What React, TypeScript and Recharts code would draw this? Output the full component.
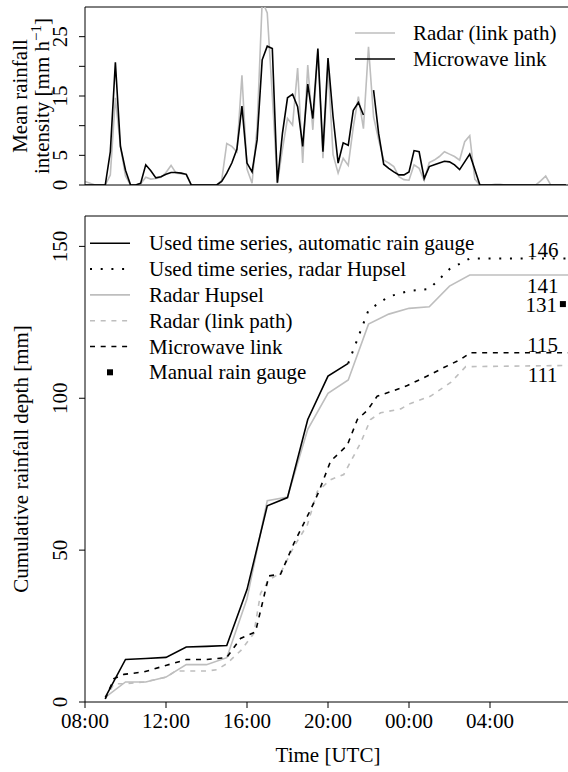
import React from "react"
import {
  ComposedChart,
  Legend,
  Line,
  LineChart,
  ReferenceDot,
  ReferenceLine,
  Scatter,
  XAxis,
  YAxis,
  Label,
} from "recharts"

const FONT = '"Liberation Serif", "Times New Roman", serif'
const GREY = "#bebebe"

// x is hours after 08:00 UTC
const timeTicks = [0, 4, 8, 12, 16, 20]
const timeLabels = ["08:00", "12:00", "16:00", "20:00", "00:00", "04:00"]

const intensityTicks = [0, 5, 10, 15, 20, 25]
const intensityLabels = [0, 5, 15, 25]
const depthTicks = [0, 50, 100, 150]

// 15-minute mean rainfall intensity [mm/h], starting 08:00
const radarLinkPath15 = [
  0.6, 0.3, 0, 0, 0, 1.7, 14.7, 6.5, 1.5, 0, 0, 0.2, 1.3, 1.0, 1.1, 1.3,
  2.1, 3.3, 2.0, 1.9, 1.8, 0, 0, 0, 0, 0, 0, 0.8, 7.0, 6.5, 5.6, 18.5,
  2.7, 0.3, 9.8, 31, 29.0, 15, 0.3, 6, 11.2, 10.1, 19.7, 3.7, 20.2, 9.3, 22.5, 4.5,
  20.0, 5.1, 2.0, 4.5, 3.3, 9.8, 14.9, 9.5, 23.3, 11.5, 7.6, 4.2, 3.7, 3.1, 1.4, 0.9,
  0.8, 3.4, 2.8, 0.8, 3.8, 4.2, 4.8, 5.6, 5.2, 4.8, 4.2, 7.3, 8.3, 1.0, 0, 0,
  0, 0.1, 0.1, 0, 0, 0, 0, 0, 0, 0, 0.7, 1.5, 0, 0, 0, 0,
]

const microwaveLink15 = [
  0, 0, 0, 0, 0, 5.6, 20.7, 6.5, 2.5, 0, 0, 0.3, 3.4, 2.4, 1.2, 1.4,
  1.8, 2.1, 2.1, 2.0, 1.8, 0, 0, 0, 0, 0, 0, 0.6, 2.0, 3.7, 6.0, 13.3,
  3.7, 2.2, 7.6, 21.1, 23.4, 23.0, 0.4, 8.7, 14.7, 15.3, 13.2, 6.5, 17.0, 11.2, 23.0, 5.6,
  21.4, 11.5, 3.7, 7.1, 6.7, 12.6, 13.9, 11.8, null, 16.0, 8.7, 3.5, 2.8, 2.2, 1.7, 1.7,
  2.2, 5.8, 5.6, 1.1, 3.1, 3.4, 3.7, 4.0, 3.9, 3.4, 2.6, 3.9, 5.2, 2.6, 0, 0,
  0, 0, 0, 0, 0, 0, 0, 0, 0, 0, 0, 0, 0, 0, 0, 0,
]

// cumulative rainfall depth [mm]
const gaugeTime = [1, 2, 3, 4, 5, 6, 7, 8, 9, 10, 11, 12, 13]
const gaugeDepth = [1.5, 14.0, 14.3, 14.7, 18.1, 18.3, 18.6, 37, 64.6, 67.3, 93, 107.3, 111.5]

const usedRadarTime = [13, 14, 15, 16, 17, 18, 19, 24]
const usedRadarDepth = [111.5, 129, 133.5, 135.3, 136, 142.5, 146, 146]

const hupselTime = [1, 2, 3, 4, 5, 6, 7, 8, 9, 10, 11, 12, 13, 14, 15, 16, 17, 18, 19, 24]
const hupselDepth = [
  1.5, 6.6, 6.6, 8.2, 12.3, 12.3, 14.6, 34, 66.3, 67.5, 89.8, 101.6, 106, 124.4,
  127.7, 129.6, 130.1, 136.9, 140.6, 140.6,
]

const radarLinkTime = [
  1.0, 1.43, 1.92, 2.91, 4.03, 4.47, 6.0, 6.5, 7.0, 7.7, 8.34, 8.67, 9.08, 9.66,
  10.32, 10.98, 11.47, 12.13, 12.78, 13.61, 14.1, 14.6, 15.59, 16.08, 17.07, 18.06, 18.8, 24,
]
const radarLinkDepth = [
  1.0, 6.0, 6.0, 6.6, 8.2, 10.2, 10.2, 10.6, 12.6, 17, 22.6, 35.8, 40.2, 42.5,
  51.2, 58.3, 69.3, 73.2, 74.9, 85.3, 93.0, 95.2, 96.5, 98.3, 100.7, 105.2, 110.4, 110.8,
]

const linkTime = [
  1.0, 1.43, 1.92, 2.91, 4.03, 5.02, 6.0, 6.99, 7.68, 8.42, 9.08, 9.66, 10.32, 11.14,
  11.55, 12.13, 12.95, 13.45, 13.94, 14.43, 15.25, 15.92, 16.9, 17.72, 18.55, 19.04, 24,
]
const linkDepth = [
  1.0, 7.7, 9.1, 9.9, 12.1, 14.0, 14.0, 14.6, 20.9, 23.1, 41.5, 42.1, 52.3, 63.3,
  69.3, 79.3, 84.5, 93.0, 96.0, 100.7, 102.5, 104.2, 107.3, 110.1, 112.8, 115, 115,
]

const manualGaugeTime = [23.6]
const manualGaugeDepth = [131]

const endLabels = ["146", "141", "131", "115", "111"]
const endValues = [146, 141, 131, 115, 111]

const intensityRows = radarLinkPath15.map((v, i) => ({
  t: i / 4,
  radar: v,
  link: microwaveLink15[i],
}))

const pairs = (ts: number[], vs: number[]) => ts.map((t, i) => ({ t, v: vs[i] }))

const textProps = { fontSize: 21, fontFamily: FONT, fill: "#000" }

function RotTick(props: any) {
  const { x, y, payload, show } = props
  if (show && !show.includes(payload.value)) return <g />
  return (
    <text
      x={x}
      y={y}
      transform={`rotate(-90, ${x}, ${y})`}
      textAnchor="middle"
      {...textProps}
    >
      {payload.value}
    </text>
  )
}

function IntensityTitle(props: any) {
  const { viewBox } = props
  const cy = viewBox.y + viewBox.height / 2
  return (
    <g>
      <text x={27} y={cy} transform={`rotate(-90, 27, ${cy})`} textAnchor="middle" {...textProps}>
        Mean rainfall
      </text>
      <text x={49} y={cy} transform={`rotate(-90, 49, ${cy})`} textAnchor="middle" {...textProps}>
        intensity [mm h
        <tspan fontSize={15} dy={-8}>−1</tspan>
        <tspan dy={8}>]</tspan>
      </text>
    </g>
  )
}

function DepthTitle(props: any) {
  const { viewBox } = props
  const cy = viewBox.y + viewBox.height / 2
  return (
    <text x={28} y={cy} transform={`rotate(-90, 28, ${cy})`} textAnchor="middle" {...textProps}>
      Cumulative rainfall depth [mm]
    </text>
  )
}

const topLegend = [
  { name: "Radar (link path)", color: GREY, dash: undefined },
  { name: "Microwave link", color: "#000", dash: undefined },
]

const bottomLegend = [
  { name: "Used time series, automatic rain gauge", color: "#000", dash: undefined, width: 1.6 },
  { name: "Used time series, radar Hupsel", color: "#000", dash: "2 8.7", width: 2 },
  { name: "Radar Hupsel", color: GREY, dash: undefined, width: 1.6 },
  { name: "Radar (link path)", color: GREY, dash: "5 5.7", width: 1.6 },
  { name: "Microwave link", color: "#000", dash: "5 5.7", width: 1.6 },
  { name: "Manual rain gauge", color: "#000", dash: "square", width: 0 },
]

function TopLegendBox() {
  return (
    <svg width={568} height={80}>
      {topLegend.map((e, i) => {
        const cy = 33 + i * 26
        return (
          <g key={e.name}>
            <line x1={355} x2={395} y1={cy} y2={cy} stroke={e.color} strokeWidth={1.6} />
            <text x={413} y={cy + 7} {...textProps}>
              {e.name}
            </text>
          </g>
        )
      })}
    </svg>
  )
}

function BottomLegendBox() {
  return (
    <svg width={568} height={190}>
      {bottomLegend.map((e, i) => {
        const cy = 43.3 + i * 25.8
        return (
          <g key={e.name}>
            {e.dash === "square" ? (
              <rect x={107} y={cy - 3} width={6} height={6} fill="#000" />
            ) : (
              <line
                x1={90}
                x2={130}
                y1={cy}
                y2={cy}
                stroke={e.color}
                strokeWidth={e.width}
                strokeDasharray={e.dash}
              />
            )}
            <text x={149} y={cy + 7} {...textProps}>
              {e.name}
            </text>
          </g>
        )
      })}
    </svg>
  )
}

const squareShape = (p: any) => (
  <rect x={p.cx - 3} y={p.cy - 3} width={6} height={6} fill="#000" />
)

export default function App() {
  return (
    <div
      style={{
        position: "absolute",
        left: 0,
        top: 0,
        width: 568,
        height: 772,
        overflow: "hidden",
        background: "#fff",
        fontFamily: FONT,
      }}
    >
      <div style={{ position: "absolute", left: 0, top: 0 }}>
        <LineChart
          width={600}
          height={215}
          data={intensityRows}
          margin={{ top: 7, right: 29, bottom: 0, left: 0 }}
        >
          <XAxis
            dataKey="t"
            type="number"
            domain={[0, 24]}
            ticks={timeTicks}
            tick={false}
            tickSize={6}
            height={30}
            stroke="#000"
          />
          <YAxis
            type="number"
            domain={[0, 30]}
            allowDataOverflow
            ticks={intensityTicks}
            width={85}
            tickSize={6}
            tickMargin={12}
            stroke="#000"
            tick={(p: any) => <RotTick {...p} show={intensityLabels} />}
          >
            <Label content={IntensityTitle} />
          </YAxis>
          <ReferenceLine y={30} stroke="#000" />
          <ReferenceLine x={24} stroke="#000" />
          <Line
            dataKey="radar"
            stroke={GREY}
            strokeWidth={1.6}
            dot={false}
            isAnimationActive={false}
          />
          <Line
            dataKey="link"
            stroke="#000"
            strokeWidth={1.6}
            dot={false}
            connectNulls={false}
            isAnimationActive={false}
          />
          <Legend
            layout="horizontal"
            verticalAlign="middle"
            align="center"
            wrapperStyle={{ left: 0, top: 0, width: 568, height: 80 }}
            content={() => <TopLegendBox />}
          />
        </LineChart>
      </div>

      <div style={{ position: "absolute", left: 0, top: 200 }}>
        <ComposedChart
          width={600}
          height={572}
          margin={{ top: 16, right: 29, bottom: 0, left: 0 }}
        >
          <XAxis
            dataKey="t"
            type="number"
            domain={[0, 24]}
            ticks={timeTicks}
            interval={0}
            tickFormatter={(v: number) => timeLabels[timeTicks.indexOf(v)]}
            tick={textProps}
            tickSize={6}
            tickMargin={5}
            height={70}
            stroke="#000"
          >
            <Label value="Time [UTC]" position="insideBottom" offset={10} {...textProps} />
          </XAxis>
          <YAxis
            type="number"
            domain={[0, 160]}
            allowDataOverflow
            ticks={depthTicks}
            width={85}
            tickSize={6}
            tickMargin={12}
            stroke="#000"
            tick={(p: any) => <RotTick {...p} />}
          >
            <Label content={DepthTitle} />
          </YAxis>
          <ReferenceLine y={160} stroke="#000" />
          <ReferenceLine x={24} stroke="#000" />

          <Line
            data={pairs(hupselTime, hupselDepth)}
            dataKey="v"
            stroke={GREY}
            strokeWidth={1.6}
            dot={false}
            isAnimationActive={false}
          />
          <Line
            data={pairs(radarLinkTime, radarLinkDepth)}
            dataKey="v"
            stroke={GREY}
            strokeWidth={1.6}
            strokeDasharray="5 5.7"
            dot={false}
            isAnimationActive={false}
          />
          <Line
            data={pairs(gaugeTime, gaugeDepth)}
            dataKey="v"
            stroke="#000"
            strokeWidth={1.6}
            dot={false}
            isAnimationActive={false}
          />
          <Line
            data={pairs(usedRadarTime, usedRadarDepth)}
            dataKey="v"
            stroke="#000"
            strokeWidth={2}
            strokeDasharray="2 8.7"
            dot={false}
            isAnimationActive={false}
          />
          <Line
            data={pairs(linkTime, linkDepth)}
            dataKey="v"
            stroke="#000"
            strokeWidth={1.6}
            strokeDasharray="5 5.7"
            dot={false}
            isAnimationActive={false}
          />
          <Scatter
            data={pairs(manualGaugeTime, manualGaugeDepth)}
            dataKey="v"
            shape={squareShape}
            isAnimationActive={false}
          />

          <ReferenceDot
            x={22.6}
            y={endValues[0]}
            r={0}
            fill="none"
            stroke="none"
            label={{ value: endLabels[0], position: "top", offset: 1.5, ...textProps }}
          />
          <ReferenceDot
            x={22.6}
            y={endValues[1]}
            r={0}
            fill="none"
            stroke="none"
            label={{ value: endLabels[1], position: "bottom", offset: 4, ...textProps }}
          />
          <ReferenceDot
            x={manualGaugeTime[0]}
            y={endValues[2]}
            r={0}
            fill="none"
            stroke="none"
            label={{ value: endLabels[2], position: "left", offset: 6, ...textProps }}
          />
          <ReferenceDot
            x={22.6}
            y={endValues[3]}
            r={0}
            fill="none"
            stroke="none"
            label={{ value: endLabels[3], position: "top", offset: 1, ...textProps }}
          />
          <ReferenceDot
            x={22.6}
            y={endValues[4]}
            r={0}
            fill="none"
            stroke="none"
            label={{ value: endLabels[4], position: "bottom", offset: 2, ...textProps }}
          />

          <Legend
            layout="horizontal"
            verticalAlign="middle"
            align="center"
            wrapperStyle={{ left: 0, top: 0, width: 568, height: 190 }}
            content={() => <BottomLegendBox />}
          />
        </ComposedChart>
      </div>
    </div>
  )
}
